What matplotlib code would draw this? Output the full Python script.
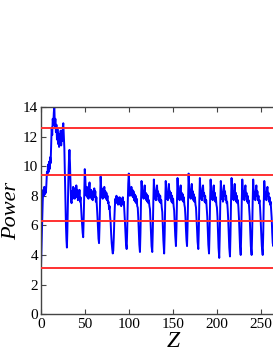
import matplotlib
matplotlib.use("Agg")
import matplotlib.pyplot as plt

plt.rcParams["font.family"] = ["Liberation Serif", "DejaVu Serif"]

# propagation distance Z and power
z = [0, 0.7, 1.4, 2, 2.6, 3.2, 3.8, 4.4, 5, 5.6, 6.2, 6.8, 7.4, 8, 8.6, 9.2, 9.8, 10.4, 11, 11.6,
     12.2, 12.8, 13.4, 14, 14.6, 15.2, 15.8, 16.4, 17, 17.6, 18.2, 18.8, 19.4, 20, 20.6, 21.2, 21.8,
     22.4, 23, 23.6, 24.2, 24.8, 25.4, 26, 26.6, 27.2, 27.8, 28.4, 29, 29.5, 30, 30.6, 31.2, 31.8,
     32.4, 33, 33.6, 34.2, 34.8, 35.4, 36, 36.6, 37.2, 37.8, 38.4, 39, 39.6, 40.2, 40.8, 41.4, 42,
     42.6, 43.2, 43.8, 44.4, 45, 45.6, 46.2, 46.8, 47.4, 48, 48.6, 49.2, 49.8, 50.4, 51, 51.6, 52.2,
     52.8, 53.4, 54, 54.6, 55.2, 55.8, 56.4, 57, 57.6, 58.2, 58.8, 59.4, 60, 60.6, 61.2, 61.8, 62.4,
     63, 63.6, 64.2, 64.8, 65.4, 66, 66.6, 67.2, 67.8, 68.4, 69, 69.6, 70.2, 70.8, 71.4, 72, 72.6,
     73.2, 73.8, 74.4, 75, 75.6, 76.2, 76.8, 77.4, 78, 78.6, 79.2, 79.8, 80.4, 81, 81.6, 82.2, 82.8,
     83.4, 84, 84.6, 85.2, 85.8, 86.4, 87, 87.6, 88.2, 88.8, 89.4, 90, 90.6, 91.2, 91.8, 92.4, 93,
     93.6, 94.2, 94.8, 95.4, 96, 96.6, 97.4, 98, 98.6, 99.2, 99.8, 100.4, 101, 101.6, 102.2, 102.8,
     103.4, 104, 104.6, 105.2, 105.8, 106.4, 107, 107.6, 108.2, 108.8, 109.4, 110, 110.6, 111.2,
     111.8, 112.5, 113.1, 113.7, 114.3, 114.9, 115.5, 116.1, 116.7, 117.3, 117.9, 118.5, 119.1,
     119.7, 120.3, 120.9, 121.5, 122.1, 122.7, 123.3, 123.9, 124.5, 125.1, 125.7, 126.5,
     127.1, 127.7, 128.3, 128.9, 129.5, 130.1, 130.7, 131.3, 131.9, 132.5, 133.1, 133.7, 134.3,
     134.9, 135.5, 136.1, 136.7, 137.3, 137.9, 138.5, 139.1, 140,
     140.6, 141.2, 141.8, 142.4, 143, 143.6, 144.2, 144.8, 145.4, 146, 146.6, 147.2, 147.8, 148.4,
     149, 149.6, 150.2, 150.8, 151.4, 152, 152.6, 153.4,
     154, 154.6, 155.2, 155.8, 156.4, 157, 157.6, 158.2, 158.8, 159.4, 160, 160.6, 161.2, 161.8,
     162.4, 163, 163.6, 164.2, 164.8, 165.4, 166,
     166.6, 167.2, 167.8, 168.4, 169, 169.6, 170.2, 170.8, 171.4, 172, 172.6, 173.2, 173.8, 174.4,
     175, 175.6, 176.2, 176.8, 177.4, 178, 178.8,
     179.4, 180, 180.6, 181.2, 181.8, 182.4, 183, 183.6, 184.2, 184.8, 185.4, 186, 186.6, 187.2,
     187.8, 188.4, 189, 189.6, 190.2, 191,
     191.6, 192.2, 192.8, 193.4, 194, 194.6, 195.2, 195.8, 196.4, 197, 197.6, 198.2, 198.8, 199.4,
     200, 200.6, 201.2, 201.8, 202.6,
     203.2, 203.8, 204.4, 205, 205.6, 206.2, 206.8, 207.4, 208, 208.6, 209.2, 209.8, 210.4, 211,
     211.6, 212.2, 212.8, 213.4, 214, 214.8,
     215.4, 216, 216.6, 217.2, 217.8, 218.4, 219, 219.6, 220.2, 220.8, 221.4, 222, 222.6, 223.2,
     223.8, 224.4, 225, 225.6, 226.2, 227,
     227.6, 228.2, 228.8, 229.4, 230, 230.6, 231.2, 231.8, 232.4, 233, 233.6, 234.2, 234.8, 235.4,
     236, 236.6, 237.2, 237.8, 238.5, 239.4,
     240, 240.6, 241.2, 241.8, 242.4, 243, 243.6, 244.2, 244.8, 245.4, 246, 246.6, 247.2, 247.8,
     248.4, 249, 249.6, 250.2, 251, 252,
     252.6, 253.2, 253.8, 254.4, 255, 255.6, 256.2, 256.8, 257.4, 258, 258.6, 259.2, 259.8, 260.4,
     261, 261.6, 262.2, 262.8, 263.4, 264, 264.6, 265.2, 265.8, 266.4, 267]

power = [3.1, 4.6, 6.2, 7.6, 8.4, 8.0, 8.6, 8.1, 8.5, 8.2, 8.8, 9.6, 9.4, 10.1, 9.6, 10.3, 9.8, 10.6,
         10.2, 11.4, 12.6, 12.1, 13.2, 12.8, 13.6, 14.1, 12.7, 13.2, 12.3, 12.8, 11.8, 12.5, 11.5,
         12.2, 11.3, 12.0, 11.6, 12.4, 11.4, 12.1, 11.7, 12.6, 12.9, 12.0, 11.2, 9.5, 7.6, 6.0, 5.0,
         4.5, 5.6, 7.4, 9.2, 10.4, 11.1, 10.2, 8.8, 7.7, 7.5, 8.3, 7.8, 8.6, 8.0, 8.5, 7.8, 8.3, 7.9,
         8.7, 8.1, 8.4, 7.7, 8.2, 7.9, 8.4, 7.6, 7.9, 7.2, 6.6, 6.0, 5.5, 5.2, 6.5, 8.2, 9.8, 9.2,
         8.3, 8.0, 8.6, 7.9, 8.4, 7.8, 8.5, 8.9, 8.2, 7.9, 8.4, 7.8, 8.3, 7.7, 8.2, 7.9, 8.5, 8.0,
         8.3, 7.6, 7.9, 7.3, 6.6, 5.8, 5.1, 4.8, 6.0, 7.8, 9.3, 8.6, 7.9, 8.3, 7.8, 8.5, 8.1, 8.6,
         7.9, 8.3, 7.8, 8.2, 7.7, 8.0, 7.5, 7.6, 7.1, 7.3, 6.6, 6.2, 5.4, 4.8, 4.4, 4.1, 4.3, 5.2,
         6.4, 7.3, 7.8, 7.5, 8.0, 7.6, 7.9, 7.4, 7.8, 7.5, 7.9, 7.4, 7.7, 7.3, 7.8, 7.5, 7.9, 7.4,
         7.6, 7.0, 6.3, 5.5, 4.8, 4.4, 5.6, 7.4, 8.8, 9.5, 8.8, 8.0, 8.5, 8.1, 8.6, 8.0, 8.4, 7.9,
         8.3, 7.7, 8.1, 7.6, 8.0, 7.5, 7.8, 7.3, 7.2, 6.5, 5.6, 4.7, 4.2, 5.5, 7.6, 9.0, 8.4, 7.9,
         8.3, 7.8, 8.4, 8.7, 8.0, 8.2, 7.7, 8.1, 7.6, 8.0, 7.5, 7.7, 7.3, 7.1, 6.3, 5.4, 4.6, 4.2,
         5.6, 7.6, 9.1, 8.4, 7.8, 8.3, 7.7, 8.4, 8.7, 8.0, 8.3, 7.7, 8.1, 7.6, 8.0, 7.5, 7.7, 7.2,
         6.9, 6.0, 5.0, 4.1,
         5.4, 7.5, 9.0, 8.3, 7.8, 8.2, 7.7, 8.5, 8.8, 8.1, 8.3, 7.8, 8.2, 7.6, 8.0, 7.5, 7.8, 7.3,
         7.0, 6.2, 5.3, 4.6,
         5.8, 7.7, 9.2, 8.4, 7.8, 8.3, 7.7, 8.5, 8.7, 8.0, 8.2, 7.7, 8.1, 7.6, 7.9, 7.4, 7.2, 6.6,
         5.7, 5.0, 4.6,
         5.9, 7.8, 9.5, 8.6, 7.9, 8.3, 7.8, 8.5, 8.8, 8.1, 8.3, 7.7, 8.1, 7.6, 7.9, 7.4, 7.2, 6.5,
         5.7, 4.9, 4.4,
         5.7, 7.7, 9.2, 8.4, 7.8, 8.3, 7.7, 8.5, 8.7, 8.0, 8.2, 7.6, 8.0, 7.5, 7.7, 7.2, 6.6, 5.6,
         4.7, 4.1,
         5.5, 7.6, 9.1, 8.3, 7.8, 8.2, 7.7, 8.5, 8.7, 8.0, 8.2, 7.6, 7.9, 7.4, 7.2, 6.6, 5.5, 4.5,
         3.8,
         5.3, 7.5, 9.0, 8.3, 7.8, 8.2, 7.6, 8.4, 8.7, 8.0, 8.3, 7.7, 8.0, 7.5, 7.6, 7.1, 6.4, 5.4,
         4.5, 3.9,
         5.4, 7.6, 9.2, 8.4, 7.8, 8.3, 7.7, 8.5, 8.8, 8.0, 8.2, 7.6, 8.0, 7.5, 7.7, 7.2, 6.5, 5.5,
         4.6, 4.0,
         5.4, 7.6, 9.1, 8.3, 7.8, 8.3, 7.7, 8.5, 8.7, 8.0, 8.2, 7.6, 8.0, 7.5, 7.7, 7.2, 6.6, 5.6,
         4.6, 4.0,
         5.4, 7.6, 9.1, 8.3, 7.8, 8.2, 7.7, 8.4, 8.7, 8.0, 8.3, 7.7, 8.0, 7.5, 7.7, 7.2, 6.5, 5.6,
         4.6, 4.0,
         5.4, 7.5, 9.0, 8.3, 7.8, 8.2, 7.7, 8.4, 8.6, 8.0, 8.2, 7.6, 7.9, 7.4, 7.6, 7.1, 6.5, 5.5,
         4.8, 4.6, 5.5, 7.5, 9.0, 8.3, 7.9]

# reference levels (multiples of pi)
levels = [3.1416, 6.2832, 9.4248, 12.5664]

x_ticks = [0, 50, 100, 150, 200, 250]
y_ticks = [0, 2, 4, 6, 8, 10, 12, 14]

fig = plt.figure(figsize=(2.73, 3.53), dpi=100)
ax = fig.add_axes([0.150, 0.110, 0.967, 0.587])

ax.plot(z, power, color="#0000ff", lw=1.4, zorder=2)
for lv in levels:
    ax.axhline(lv, color="#ff3030", lw=1.4, zorder=3)

ax.set_xlim(0, 300)
ax.set_ylim(0, 14)
ax.set_xticks(x_ticks)
ax.set_yticks(y_ticks)
ax.tick_params(direction="in", length=3.5, width=0.8, color="#444444",
               labelsize=11, top=True, right=True)
ax.tick_params(axis="x", pad=3)
ax.tick_params(axis="y", pad=2)
for s in ax.spines.values():
    s.set_color("#444444")
    s.set_linewidth(1.0)

ax.set_xlabel("Z", fontsize=17, style="italic", labelpad=0)
ax.set_ylabel("Power", fontsize=16, style="italic", labelpad=1)

fig.savefig("out.png", dpi=100)
